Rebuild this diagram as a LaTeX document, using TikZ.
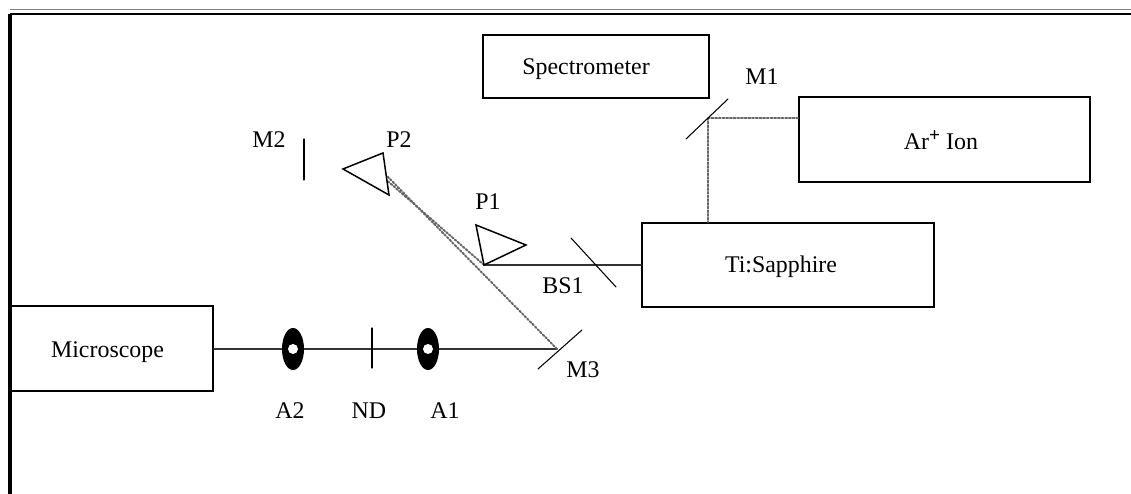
\documentclass[tikz,border=0pt]{standalone}
\usepackage{fontspec}
\setmainfont{Liberation Serif}
\usetikzlibrary{shapes.geometric}
\tikzset{
  optbox/.style={draw,line width=0.85pt,minimum size=0pt,inner sep=0pt},
  optic/.style={line width=0.6pt},
  beam/.style={line width=1.1pt,black!80},
  faintbeam/.style={line width=1.1pt,black!60,densely dotted},
  iris/.style={ellipse,fill=black,inner sep=0pt,minimum width=0.44cm,minimum height=0.84cm},
  hole/.style={circle,fill=white,inner sep=0pt,minimum size=0.2cm},
  tag/.style={inner sep=0pt}
}
\begin{document}
\begin{tikzpicture}[font=\fontsize{13.6}{16}\selectfont,line cap=round]
\useasboundingbox (0,0) rectangle (22.62,9.88);
% frame
\draw[line width=2.2pt,line cap=butt] (0.2,0) -- (0.2,9.6);
\draw[line width=1.4pt,line cap=butt] (0.2,9.6) -- (22.62,9.6);
\draw[line width=1pt,gray,line cap=butt] (0.2,9.69) -- (22.62,9.69);
% boxes
\node[optbox,minimum width=4.52cm,minimum height=1.26cm,label={[xshift=-0.2cm,yshift=-0.05cm]center:Spectrometer}] (spectrometer) at (11.92,8.55) {};
\node[optbox,minimum width=5.82cm,minimum height=1.7cm,label={[xshift=-0.07cm,yshift=-0.02cm]center:Ar\raisebox{0.7ex}{\fontsize{11}{13}\selectfont\bfseries +} Ion}] (arion) at (18.89,7.09) {};
\node[optbox,minimum width=5.84cm,minimum height=1.68cm,label={[xshift=-0.14cm,yshift=-0.04cm]center:Ti:Sapphire}] (tisapphire) at (15.76,4.58) {};
\node[optbox,minimum width=4.04cm,minimum height=1.7cm,label={[xshift=-0.09cm,yshift=-0.08cm]center:Microscope}] (microscope) at (2.24,2.91) {};
% beam points
\coordinate (m1) at (14.16,7.52);
\coordinate (bs1) at (11.9,4.58);
\coordinate (m3) at (11.14,2.9);
\coordinate (p1) at (9.68,4.58);
\coordinate (p2a) at (7.74,6.36);
\coordinate (p2b) at (7.74,6.27);
% beams
\draw[faintbeam] (arion.west |- m1) -- (m1);
\draw[faintbeam] (m1) -- (m1 |- tisapphire.north);
\draw[beam] (tisapphire.west) -- (bs1) -- (p1);
\draw[beam] (microscope.east |- m3) -- (m3);
\draw[faintbeam] (m3) -- (p2a);
\draw[faintbeam] (p1) -- (p2b);
% mirrors
\draw[optic] (13.72,7.10) -- (14.56,7.90);
\draw[optic] (11.42,5.12) -- (12.32,4.14);
\draw[optic] (10.76,2.50) -- (11.64,3.28);
\draw[optic] (6.08,7.10) -- (6.08,6.28);
\draw[optic] (7.44,3.32) -- (7.44,2.52);
% prisms
\draw[line width=0.85pt] (9.52,5.38) -- (10.52,4.98) -- (p1) -- cycle;
\draw[line width=0.85pt] (6.86,6.50) -- (7.66,6.82) -- (7.78,5.98) -- cycle;
% apertures
\node[iris] (a2) at (5.86,2.9) {};
\node[hole] (a2hole) at (a2) {};
\node[iris] (a1) at (8.56,2.9) {};
\node[hole] (a1hole) at (a1) {};
% labels
\node[tag] (m1label) at (15.24,8.34) {M1};
\node[tag] (m2label) at (5.38,7.08) {M2};
\node[tag] (p2label) at (7.98,7.08) {P2};
\node[tag] (p1label) at (9.76,5.84) {P1};
\node[tag] (bs1label) at (11.26,4.16) {BS1};
\node[tag] (m3label) at (11.66,2.48) {M3};
\node[tag] (a2label) at (5.80,1.66) {A2};
\node[tag] (ndlabel) at (7.38,1.66) {ND};
\node[tag] (a1label) at (8.9,1.66) {A1};
\end{tikzpicture}
\end{document}
